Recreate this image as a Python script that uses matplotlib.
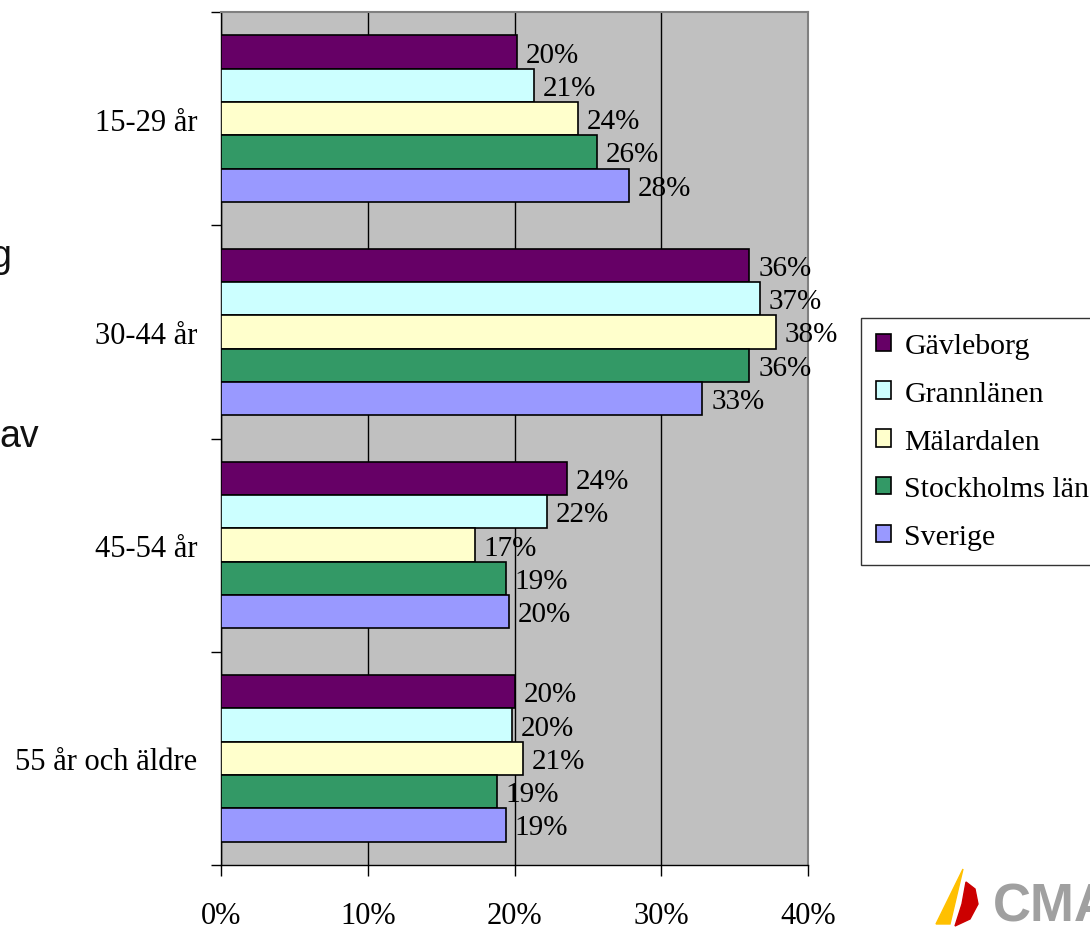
import matplotlib
matplotlib.use("Agg")
import matplotlib.pyplot as plt
from matplotlib.patches import Polygon, Patch

plt.rcParams['font.family'] = ['Liberation Serif', 'DejaVu Serif']

categories = ["15-29 år", "30-44 år", "45-54 år", "55 år och äldre"]
series = ["Gävleborg", "Grannlänen", "Mälardalen", "Stockholms län", "Sverige"]
colors = ["#660066", "#CCFFFF", "#FFFFCC", "#339966", "#9999FF"]
gavleborg = [20.2, 36.0, 23.6, 20.0]
grannlanen = [21.3, 36.7, 22.2, 19.8]
malardalen = [24.3, 37.8, 17.3, 20.6]
stockholm = [25.6, 36.0, 19.4, 18.8]
sverige = [27.8, 32.8, 19.6, 19.4]
values = [gavleborg, grannlanen, malardalen, stockholm, sverige]
xticks = [0, 10, 20, 30, 40]
xticklabels = ["0%", "10%", "20%", "30%", "40%"]

W, H = 1090, 929
fig = plt.figure(figsize=(W / 100, H / 100), dpi=100)
ax = fig.add_axes([221 / W, 1 - 866 / H, (808 - 221) / W, (866 - 13) / H])
ax.set_facecolor("#C0C0C0")

h = 0.156
for j, (name, col, vals) in enumerate(zip(series, colors, values)):
    ys = [i + (j - 2) * h for i in range(len(categories))]
    ax.barh(ys, vals, height=h, color=col, edgecolor="black", linewidth=1.2,
            label=name, zorder=3)
    for y, v in zip(ys, vals):
        ax.text(v + 0.6, y + 0.012, f"{round(v)}%", va="center", ha="left",
                fontsize=21, zorder=4)

ax.set_xlim(0, 40)
ax.set_ylim(len(categories) - 0.5, -0.5)
ax.set_xticks(xticks)
ax.set_xticklabels(xticklabels, fontsize=22)
ax.set_yticks(range(len(categories)))
ax.set_yticklabels(categories, fontsize=22)
ax.set_yticks([i - 0.5 for i in range(len(categories) + 1)], minor=True)
ax.tick_params(axis="y", which="major", length=0, pad=17)
ax.tick_params(axis="y", which="minor", length=7, width=1, direction="out")
ax.tick_params(axis="x", which="major", length=8, width=1, direction="out", pad=18)
ax.xaxis.grid(True, color="black", linewidth=1, zorder=1)
ax.set_axisbelow(True)
for s in ["top", "right"]:
    ax.spines[s].set_color("#808080")
    ax.spines[s].set_linewidth(1.5)
for s in ["left", "bottom"]:
    ax.spines[s].set_color("black")
    ax.spines[s].set_linewidth(1)

handles = [Patch(facecolor=c, edgecolor="black", linewidth=1.2) for c in colors]
leg = fig.legend(handles, series, loc="upper left",
                 bbox_to_anchor=(861 / W, 1 - 319 / H), fontsize=21.5,
                 frameon=True, fancybox=False, handlelength=0.52, handleheight=0.52,
                 handletextpad=0.43, labelspacing=0.73, borderpad=0.5,
                 borderaxespad=0, edgecolor="black")
leg.get_frame().set_linewidth(1)

# stray slide text fragments at left edge
fig.text(11 / W, 1 - 257 / H, "g", fontsize=27, family="Liberation Sans",
         ha="right", va="center", color="#111111")
fig.text(-1 / W, 1 - 437 / H, "av", fontsize=27, family="Liberation Sans",
         ha="left", va="center", color="#111111")

# CMA logo fragment
lax = fig.add_axes([930 / W, 0, 160 / W, 62 / H])
lax.set_xlim(930, 1090)
lax.set_ylim(929, 867)
lax.axis("off")
lax.add_patch(Polygon([[963, 870], [936, 925], [950, 925]], closed=True, color="#FFC000"))
lax.add_patch(Polygon([[966, 883], [975, 890], [978, 905], [970, 920], [955, 927], [962, 905]],
                      closed=True, color="#CC0000"))
lax.text(993, 933, "CMA", fontsize=38, family="Liberation Sans", fontweight="bold",
         color="#A0A0A0", ha="left", va="bottom")

fig.savefig("out.png", dpi=100)
